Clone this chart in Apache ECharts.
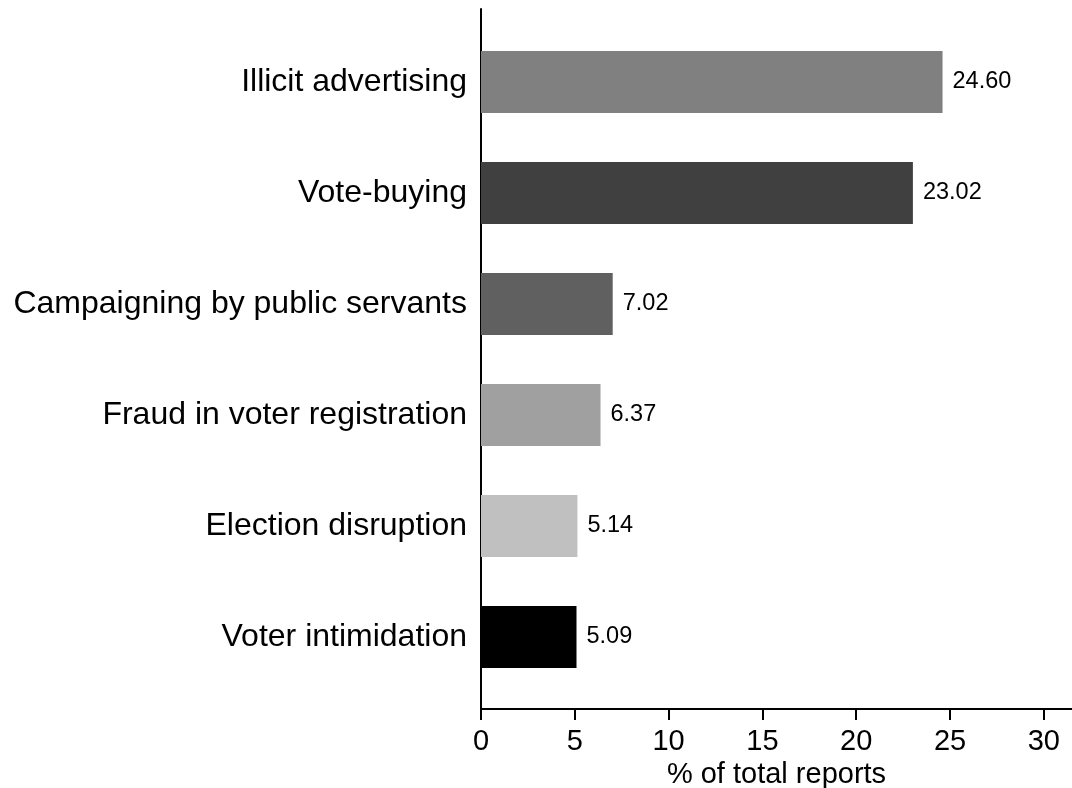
<!DOCTYPE html>
<html>
<head>
<meta charset="utf-8">
<script src="https://cdn.jsdelivr.net/npm/echarts@6/dist/echarts.min.js"></script>
<style>
  html, body { margin: 0; padding: 0; background: #fff; }
  #chart { width: 1072px; height: 788px; }
</style>
</head>
<body>
<div id="chart"></div>
<script>
// categories, top to bottom
const categories = [
  'Illicit advertising',
  'Vote-buying',
  'Campaigning by public servants',
  'Fraud in voter registration',
  'Election disruption',
  'Voter intimidation'
];
const values = [24.60, 23.02, 7.02, 6.37, 5.14, 5.09];
const barColors = ['#808080', '#404040', '#606060', '#a0a0a0', '#c0c0c0', '#000000'];
const xTicks = [0, 5, 10, 15, 20, 25, 30];

const font = '"Liberation Sans", Arial, Helvetica, sans-serif';
const xMin = xTicks[0];
const xMax = 31.5;

const chart = echarts.init(document.getElementById('chart'));
chart.setOption({
  animation: false,
  textStyle: { fontFamily: font },
  grid: [
    // bars
    { left: 481, right: 0, top: 26.5, height: 666, containLabel: false, outerBoundsMode: 'none' },
    // frame: visible axes
    { left: 481, right: 0, top: 9, bottom: 79, containLabel: false, outerBoundsMode: 'none' }
  ],
  xAxis: [
    {
      gridIndex: 0, type: 'value', min: xMin, max: xMax, interval: 5,
      show: false
    },
    {
      gridIndex: 1, type: 'value', min: xMin, max: xMax, interval: 5,
      name: '% of total reports',
      nameLocation: 'middle',
      nameGap: 51,
      nameTextStyle: { fontSize: 29, color: '#000', fontFamily: font },
      axisLine: { show: true, lineStyle: { color: '#000', width: 2 } },
      axisTick: { show: true, length: 11, lineStyle: { color: '#000', width: 2 } },
      axisLabel: {
        fontSize: 29, color: '#000', margin: 18, fontFamily: font,
        showMaxLabel: false,
        formatter: v => xTicks.includes(v) ? String(v) : ''
      },
      splitLine: { show: false }
    }
  ],
  yAxis: [
    {
      gridIndex: 0, type: 'category', data: categories, inverse: true,
      axisLine: { show: false },
      axisTick: { show: false },
      axisLabel: { fontSize: 32, color: '#000', margin: 14, fontFamily: font }
    },
    {
      gridIndex: 1, type: 'value', min: 0, max: 1,
      axisLine: { show: true, lineStyle: { color: '#000', width: 2 } },
      axisTick: { show: false },
      axisLabel: { show: false },
      splitLine: { show: false }
    }
  ],
  series: [
    {
      type: 'bar',
      xAxisIndex: 0,
      yAxisIndex: 0,
      barWidth: 62,
      data: values.map((v, i) => ({ value: v, itemStyle: { color: barColors[i] } })),
      label: {
        show: true,
        position: 'right',
        distance: 10,
        fontSize: 23.5,
        color: '#000',
        fontFamily: font,
        formatter: p => p.value.toFixed(2)
      }
    }
  ]
});
</script>
</body>
</html>
